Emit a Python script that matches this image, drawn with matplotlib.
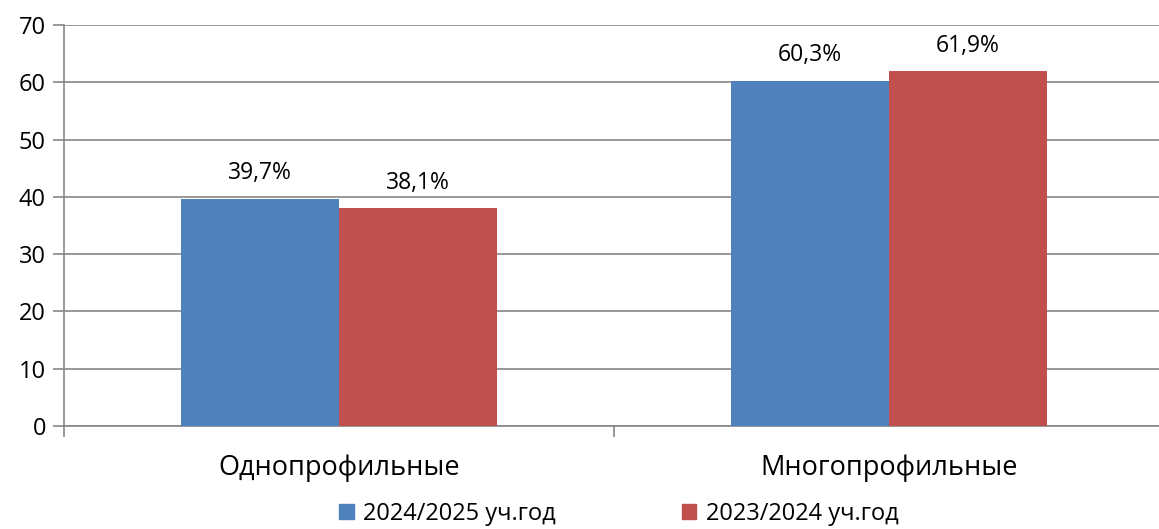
import numpy as np
import matplotlib.pyplot as plt
from matplotlib.patches import Patch

categories = ["Однопрофильные", "Многопрофильные"]
series_names = ["2024/2025 уч.год", "2023/2024 уч.год"]
values_2024 = [39.7, 60.3]
values_2023 = [38.1, 61.9]
colors = ["#4F81BD", "#C0504D"]

plt.rcParams['font.family'] = ['Open Sans', 'DejaVu Sans']

fig = plt.figure(figsize=(11.59, 5.29), dpi=100)
ax = fig.add_axes([0.0552, 0.1947, 0.9488, 0.758])

x = np.arange(len(categories))
w = 0.287
b1 = ax.bar(x - w / 2, values_2024, w, color=colors[0], zorder=3)
b2 = ax.bar(x + w / 2, values_2023, w, color=colors[1], zorder=3)

for bars, vals in ((b1, values_2024), (b2, values_2023)):
    for rect, v in zip(bars, vals):
        ax.text(rect.get_x() + rect.get_width() / 2, v + 2.3,
                f"{v:.1f}%".replace(".", ","), ha="center", va="bottom",
                fontsize=16.5)

ax.set_ylim(0, 70)
ax.set_xlim(-0.5, 1.5)
ax.set_yticks(range(0, 71, 10))
ax.yaxis.grid(True, color="#868686", linewidth=1.2, zorder=0)
ax.set_xticks([-0.5, 0.5, 1.5])
ax.set_xticklabels([])
ax.tick_params(axis="x", length=8, color="#868686", width=1.2)
ax.tick_params(axis="y", length=8, color="#868686", width=1.2, labelsize=17, pad=5)
for i, c in enumerate(categories):
    ax.text(i, -4.9, c, ha="center", va="top", fontsize=19.5,
            transform=ax.transData)

for s in ("top", "right"):
    ax.spines[s].set_visible(False)
for s in ("left", "bottom"):
    ax.spines[s].set_color("#868686")
    ax.spines[s].set_linewidth(1.2)

handles = [Patch(color=c) for c in colors]
fig.legend(handles, series_names, loc="center", bbox_to_anchor=(0.534, 0.028),
           ncol=2, frameon=False, fontsize=17, handlelength=0.6,
           handleheight=0.6, handletextpad=0.4, columnspacing=5.35,
           borderpad=0.1)

fig.savefig("out.png", dpi=100)
